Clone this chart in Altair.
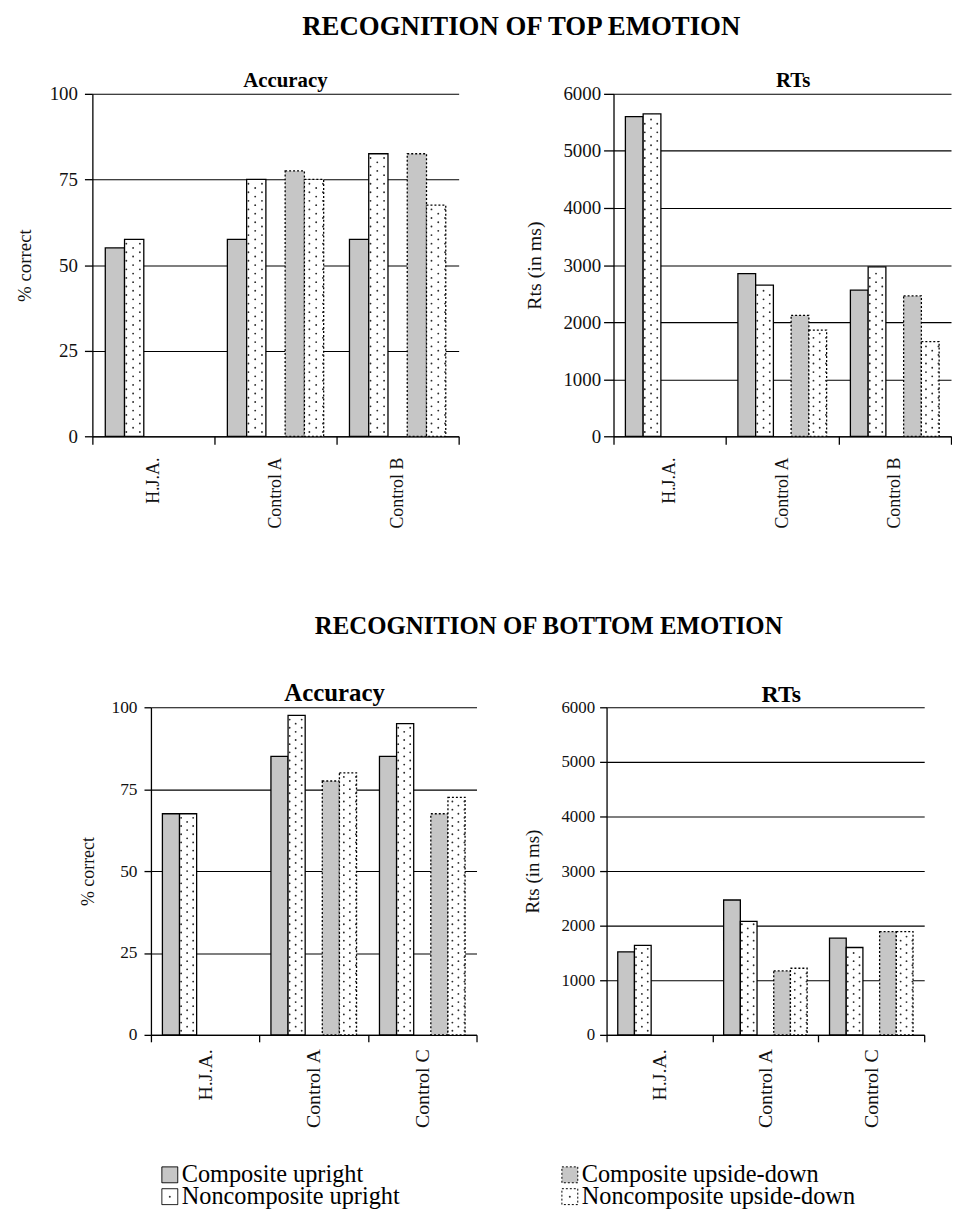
import altair as alt
import pandas as pd

FONT = "Liberation Serif"

SERIES = ["Composite upright", "Noncomposite upright",
          "Composite upside-down", "Noncomposite upside-down"]
SLOTS = [SERIES[0], SERIES[1], "(gap)", SERIES[2], SERIES[3]]
FILLS = ["#c6c6c6", "white", "#c6c6c6", "white"]
DASHES = [[1, 0], [1, 0], [2, 2], [2, 2]]
SUBS = ["(l0)", "(l1)"] + [f"{s}|{k}" for s in SLOTS for k in range(3)] + ["(r0)", "(r1)"]

# legend layout: two columns, two rows
legend_col = [0, 0, 1, 1]
legend_row = [0, 1, 0, 1]

top_groups = ["H.J.A.", "Control A", "Control B"]
bottom_groups = ["H.J.A.", "Control A", "Control C"]

# Recognition of top emotion
top_acc_cu = [55, 57.5, 57.5]
top_acc_nu = [57.5, 75, 82.5]
top_acc_cud = [None, 77.5, 82.5]
top_acc_nud = [None, 75, 67.5]

top_rt_cu = [5600, 2850, 2560]
top_rt_nu = [5650, 2650, 2970]
top_rt_cud = [None, 2120, 2460]
top_rt_nud = [None, 1860, 1660]

# Recognition of bottom emotion
bot_acc_cu = [67.5, 85, 85]
bot_acc_nu = [67.5, 97.5, 95]
bot_acc_cud = [None, 77.5, 67.5]
bot_acc_nud = [None, 80, 72.5]

bot_rt_cu = [1520, 2470, 1770]
bot_rt_nu = [1640, 2080, 1600]
bot_rt_cud = [None, 1170, 1890]
bot_rt_nud = [None, 1220, 1890]

acc_ticks = [0, 25, 50, 75, 100]
rt_ticks = [0, 1000, 2000, 3000, 4000, 5000, 6000]

FILL_SCALE = alt.Scale(domain=SERIES, range=FILLS)
DASH_SCALE = alt.Scale(domain=SERIES, range=DASHES)


def frame(groups, cu, nu, cud, nud):
    rows = []
    for s, vals in zip(SERIES, [cu, nu, cud, nud]):
        for g, v in zip(groups, vals):
            if v is not None:
                rows.append({"group": g, "series": s, "value": v})
    return pd.DataFrame(rows)


def panel(df, groups, ymax, ticks, ytitle, title, tsize, tdx, toff, w, h,
          ylab, ytick, ypad, ytsize, ytpad, xlab, xtick, xpad):
    step = ymax / 40.0
    x = alt.X("group:N", sort=groups,
              scale=alt.Scale(domain=groups, paddingInner=0, paddingOuter=0),
              axis=alt.Axis(title=None, labelAngle=-90, tickBand="extent",
                            labelFontSize=xlab, tickSize=xtick, labelPadding=xpad,
                            grid=False))
    y = alt.Y("value:Q", scale=alt.Scale(domain=[0, ymax], nice=False),
              axis=alt.Axis(title=ytitle, values=ticks, grid=True, format="d",
                            labelFontSize=ylab, tickSize=ytick, labelPadding=ypad,
                            titleFontSize=ytsize, titlePadding=ytpad))
    bars = alt.Chart(df).mark_bar(stroke="black", strokeWidth=1.3).encode(
        x=x,
        xOffset=alt.XOffset("series:N", scale=alt.Scale(
            domain=SLOTS, paddingInner=0, paddingOuter=0.67)),
        y=y,
        fill=alt.Fill("series:N", scale=FILL_SCALE, legend=None),
        strokeDash=alt.StrokeDash("series:N", scale=DASH_SCALE, legend=None),
    )
    dots = alt.Chart(df).transform_filter(
        alt.FieldOneOfPredicate(field="series", oneOf=[SERIES[1], SERIES[3]])
    ).transform_calculate(
        cols="[0, 1, 2]"
    ).transform_flatten(
        ["cols"], as_=["col"]
    ).transform_calculate(
        seq=f"sequence(datum.col == 1 ? {step} : {step / 2}, datum.value - {step * 0.3}, {step})"
    ).transform_flatten(
        ["seq"], as_=["dot"]
    ).transform_calculate(
        sub="datum.series + '|' + datum.col", value="datum.dot"
    ).mark_circle(size=3.5, color="#2a2a2a", opacity=1).encode(
        x=x,
        xOffset=alt.XOffset("sub:N", scale=alt.Scale(
            domain=SUBS, paddingInner=0, paddingOuter=0.01)),
        y=y,
    )
    return alt.layer(bars, dots).resolve_scale(xOffset="independent").properties(
        width=w, height=h,
        title=alt.Title(title, fontSize=tsize, fontWeight="bold", anchor="middle",
                        frame="group", dx=tdx, offset=toff, baseline="alphabetic"),
    )


TL = panel(frame(top_groups, top_acc_cu, top_acc_nu, top_acc_cud, top_acc_nud),
           top_groups, 100, acc_ticks, "% correct", "Accuracy", 21, 10, -23, 369, 345,
           19, 8, 7, 19, 15, 18, 8, 13)
TR = panel(frame(top_groups, top_rt_cu, top_rt_nu, top_rt_cud, top_rt_nud),
           top_groups, 6000, rt_ticks, "Rts (in ms)", "RTs", 21, 11, -23, 340, 345,
           19, 10, 3, 20, 19, 18, 8, 13)
BL = panel(frame(bottom_groups, bot_acc_cu, bot_acc_nu, bot_acc_cud, bot_acc_nud),
           bottom_groups, 100, acc_ticks, "% correct", "Accuracy", 25, 21, -28, 328, 330,
           17.5, 7, 7, 18, 14, 20, 7, 7)
BR = panel(frame(bottom_groups, bot_rt_cu, bot_rt_nu, bot_rt_cud, bot_rt_nud),
           bottom_groups, 6000, rt_ticks, "Rts (in ms)", "RTs", 24, 16, -28, 320, 330,
           17, 7, 5, 19, 19, 20, 7, 7)


def spacer(width):
    return alt.Chart(pd.DataFrame({"v": [0]})).mark_point(size=0, opacity=0).encode(
        x=alt.X("v:Q", axis=None, scale=alt.Scale(domain=[0, 1])),
        y=alt.Y("v:Q", axis=None, scale=alt.Scale(domain=[0, 1])),
    ).properties(width=width, height=1)


# legend drawn from the series list
leg_df = pd.DataFrame({"series": SERIES, "col": legend_col, "row": legend_row})
lx = alt.X("col:O", axis=None, scale=alt.Scale(type="point", domain=[0, 1],
                                               range=[8, 411], padding=0))
ly = alt.Y("row:O", axis=None, scale=alt.Scale(type="point", domain=[0, 1],
                                               range=[11, 33], padding=0))
leg_sym = alt.Chart(leg_df).mark_square(size=256, stroke="black", strokeWidth=1,
                                        opacity=1).encode(
    x=lx, y=ly,
    fill=alt.Fill("series:N", scale=FILL_SCALE, legend=None),
    strokeDash=alt.StrokeDash("series:N", scale=DASH_SCALE, legend=None),
)
leg_dot = alt.Chart(leg_df).transform_filter(
    alt.FieldOneOfPredicate(field="series", oneOf=[SERIES[1], SERIES[3]])
).mark_circle(size=4, color="#333", opacity=1).encode(x=lx, y=ly)
leg_txt = alt.Chart(leg_df).mark_text(
    align="left", baseline="middle", dx=12, fontSize=24.5, font=FONT, color="black"
).encode(x=lx, y=ly, text="series:N")
legend = alt.layer(leg_sym, leg_dot, leg_txt).properties(width=700, height=40)
legend_row = alt.hconcat(spacer(143), legend, spacing=10)

top_inner = alt.hconcat(
    TL, TR, spacing=65,
    title=alt.Title("RECOGNITION OF TOP EMOTION", fontSize=27, fontWeight="bold",
                    anchor="middle", dx=38, offset=29),
).resolve_scale(xOffset="independent")
top_row = alt.hconcat(spacer(2), top_inner, spacing=5).resolve_scale(xOffset="independent")

bottom_inner = alt.hconcat(
    BL, BR, spacing=46,
    title=alt.Title("RECOGNITION OF BOTTOM EMOTION", fontSize=25, fontWeight="bold",
                    anchor="middle", dx=47, offset=43),
).resolve_scale(xOffset="independent")
bottom_row = alt.hconcat(spacer(61), bottom_inner, spacing=10).resolve_scale(
    xOffset="independent")

lower = alt.concat(bottom_row, legend_row, columns=1, spacing=33).resolve_scale(
    xOffset="independent")

chart = alt.concat(top_row, lower, columns=1, spacing=85).resolve_scale(
    xOffset="independent"
).properties(
    padding={"left": 0, "top": 1, "right": 0, "bottom": 0}
).configure(
    font=FONT
).configure_view(
    stroke=None
).configure_axis(
    domainColor="black", domainWidth=1.3, tickColor="black", tickWidth=1.3,
    labelColor="#111", titleColor="#111", labelFont=FONT, titleFont=FONT,
    titleFontWeight="normal", gridColor="black", gridWidth=1.1, gridOpacity=1,
).configure_title(
    font=FONT, color="black"
)

chart.save("out.html", embed_options={"renderer": "svg", "actions": False})
